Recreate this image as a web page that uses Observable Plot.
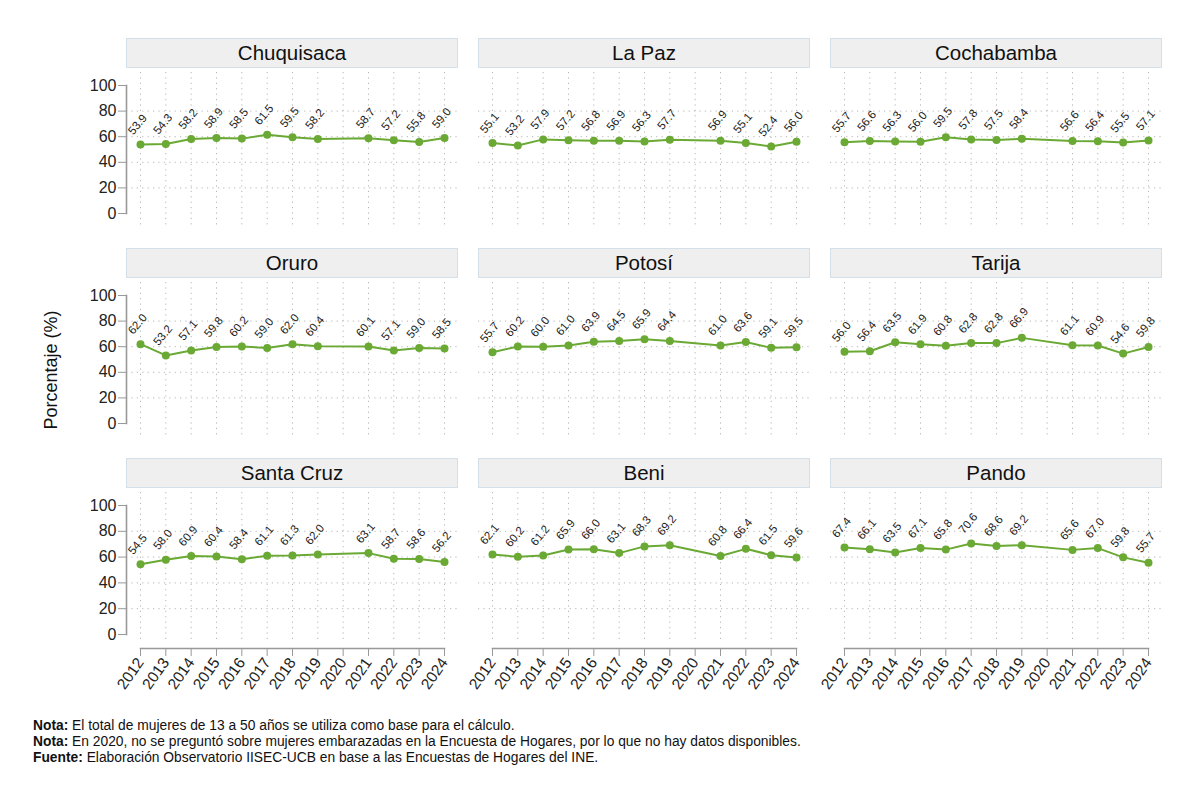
<!DOCTYPE html>
<html>
<head>
<meta charset="utf-8">
<script src="https://cdn.jsdelivr.net/npm/d3@7"></script>
<script src="https://cdn.jsdelivr.net/npm/@observablehq/plot@0.6"></script>
<style>
  body { margin: 0; background: #fff; font-family: "Liberation Sans", Arial, sans-serif; }
  #chart { position: relative; width: 1200px; height: 801px; overflow: hidden; }
  #chart svg { position: absolute; }
  .strip {
    position: absolute; box-sizing: border-box; background: #efefef;
    border: 1px solid #d3e0ea; display: flex; align-items: center; justify-content: center;
    font-size: 20.5px; color: #111;
  }
  .ytitle {
    position: absolute; left: 51px; top: 370px; font-size: 18px; color: #111;
    transform: translate(-50%, -50%) rotate(-90deg); white-space: nowrap;
  }
  .notes { position: absolute; left: 33px; top: 718px; font-size: 13.8px; line-height: 16px; color: #111; }
</style>
</head>
<body>
<div id="chart"></div>
<script>
// Años con dato (2020 sin encuesta) y marcas del eje
const years = [2012, 2013, 2014, 2015, 2016, 2017, 2018, 2019, 2021, 2022, 2023, 2024];
const yearTicks = [2012, 2013, 2014, 2015, 2016, 2017, 2018, 2019, 2020, 2021, 2022, 2023, 2024];
const yTicks = [0, 20, 40, 60, 80, 100];
const yGrid = [20, 40, 60, 80];

const departments = ["Chuquisaca", "La Paz", "Cochabamba", "Oruro", "Potosí", "Tarija", "Santa Cruz", "Beni", "Pando"];

// Porcentaje por departamento y año
const chuquisaca = [53.9, 54.3, 58.2, 58.9, 58.5, 61.5, 59.5, 58.2, 58.7, 57.2, 55.8, 59.0];
const laPaz      = [55.1, 53.2, 57.9, 57.2, 56.8, 56.9, 56.3, 57.7, 56.9, 55.1, 52.4, 56.0];
const cochabamba = [55.7, 56.6, 56.3, 56.0, 59.5, 57.8, 57.5, 58.4, 56.6, 56.4, 55.5, 57.1];
const oruro      = [62.0, 53.2, 57.1, 59.8, 60.2, 59.0, 62.0, 60.4, 60.1, 57.1, 59.0, 58.5];
const potosi     = [55.7, 60.2, 60.0, 61.0, 63.9, 64.5, 65.9, 64.4, 61.0, 63.6, 59.1, 59.5];
const tarija     = [56.0, 56.4, 63.5, 61.9, 60.8, 62.8, 62.8, 66.9, 61.1, 60.9, 54.6, 59.8];
const santaCruz  = [54.5, 58.0, 60.9, 60.4, 58.4, 61.1, 61.3, 62.0, 63.1, 58.7, 58.6, 56.2];
const beni       = [62.1, 60.2, 61.2, 65.9, 66.0, 63.1, 68.3, 69.2, 60.8, 66.4, 61.5, 59.6];
const pando      = [67.4, 66.1, 63.5, 67.1, 65.8, 70.6, 68.6, 69.2, 65.6, 67.0, 59.8, 55.7];

const series = [chuquisaca, laPaz, cochabamba, oruro, potosi, tarija, santaCruz, beni, pando];

const green = "#6aa934";
const gridColor = "#b5b5b5";
const axisColor = "#999";
const fmt = d3.format(".1f");
const font = '"Liberation Sans", Arial, sans-serif';

const chart = document.getElementById("chart");

// Panel geometry (3 x 3 grid)
const colStep = 352, rowStep = 210;
const frameW = 332, frameH = 156;
const marginLeft = 60, marginRight = 10, marginTop = 10;

departments.forEach((name, i) => {
  const col = i % 3, row = Math.floor(i / 3);
  const last = row === 2;
  const frameLeft = 126 + col * colStep;
  const stripTop = 38 + row * rowStep;
  const frameTop = stripTop + 34;
  const marginBottom = last ? 64 : 10;
  const insetBottom = last ? 14 : 15;
  const height = marginTop + frameH + marginBottom;

  // header strip
  const strip = document.createElement("div");
  strip.className = "strip";
  strip.style.left = frameLeft + "px";
  strip.style.top = stripTop + "px";
  strip.style.width = frameW + "px";
  strip.style.height = "30px";
  strip.textContent = name;
  chart.appendChild(strip);

  const data = years.map((year, k) => ({year, value: series[i][k]}));

  const marks = [
    Plot.gridX(yearTicks, {stroke: gridColor, strokeOpacity: 1, strokeDasharray: "1.2,4.2", insetBottom: last ? 6 : 0}),
    Plot.gridY(yGrid, {stroke: gridColor, strokeOpacity: 1, strokeDasharray: "1.2,4.2"}),
    Plot.line(data, {x: "year", y: "value", stroke: green, strokeWidth: 2}),
    Plot.dot(data, {x: "year", y: "value", r: 4, fill: green}),
    Plot.text(data, {
      x: "year", y: "value", text: d => fmt(d.value),
      rotate: -50, dy: -20, dx: -3, fontSize: 11.5, fill: "#222"
    })
  ];
  if (col === 0) {
    marks.push(Plot.frame({anchor: "left", insetTop: 13, insetBottom, stroke: axisColor, strokeWidth: 1.6}));
    marks.push(Plot.axisY(yTicks, {label: null, tickSize: 8, tickPadding: 2, fontSize: 16, stroke: axisColor, fill: "#222", tickFormat: d => String(d)}));
  }
  if (last) {
    marks.push(Plot.frame({anchor: "bottom", insetLeft: 14, insetRight: 14, stroke: axisColor, strokeWidth: 1.6}));
    marks.push(Plot.axisX(yearTicks, {label: null, tickSize: 8, tickPadding: 3, tickRotate: -55, fontSize: 15.5, stroke: axisColor, fill: "#222", tickFormat: d => String(d)}));
  }

  const svg = Plot.plot({
    width: marginLeft + frameW + marginRight,
    height,
    marginLeft, marginRight, marginTop, marginBottom,
    style: {background: "transparent", overflow: "visible", fontFamily: font},
    x: {domain: [2012, 2024], insetLeft: 14, insetRight: 14, label: null, ...(last ? {} : {axis: null})},
    y: {domain: [0, 100], insetTop: 13, insetBottom, label: null, ...(col === 0 ? {} : {axis: null})},
    marks
  });
  svg.style.left = (frameLeft - marginLeft) + "px";
  svg.style.top = (frameTop - marginTop) + "px";
  chart.appendChild(svg);
});

// y-axis title
const yt = document.createElement("div");
yt.className = "ytitle";
yt.textContent = "Porcentaje (%)";
chart.appendChild(yt);

// notes
const notes = document.createElement("div");
notes.className = "notes";
notes.innerHTML =
  "<b>Nota:</b> El total de mujeres de 13 a 50 años se utiliza como base para el cálculo.<br>" +
  "<b>Nota:</b> En 2020, no se preguntó sobre mujeres embarazadas en la Encuesta de Hogares, por lo que no hay datos disponibles.<br>" +
  "<b>Fuente:</b> Elaboración Observatorio IISEC-UCB en base a las Encuestas de Hogares del INE.";
chart.appendChild(notes);
</script>
</body>
</html>
